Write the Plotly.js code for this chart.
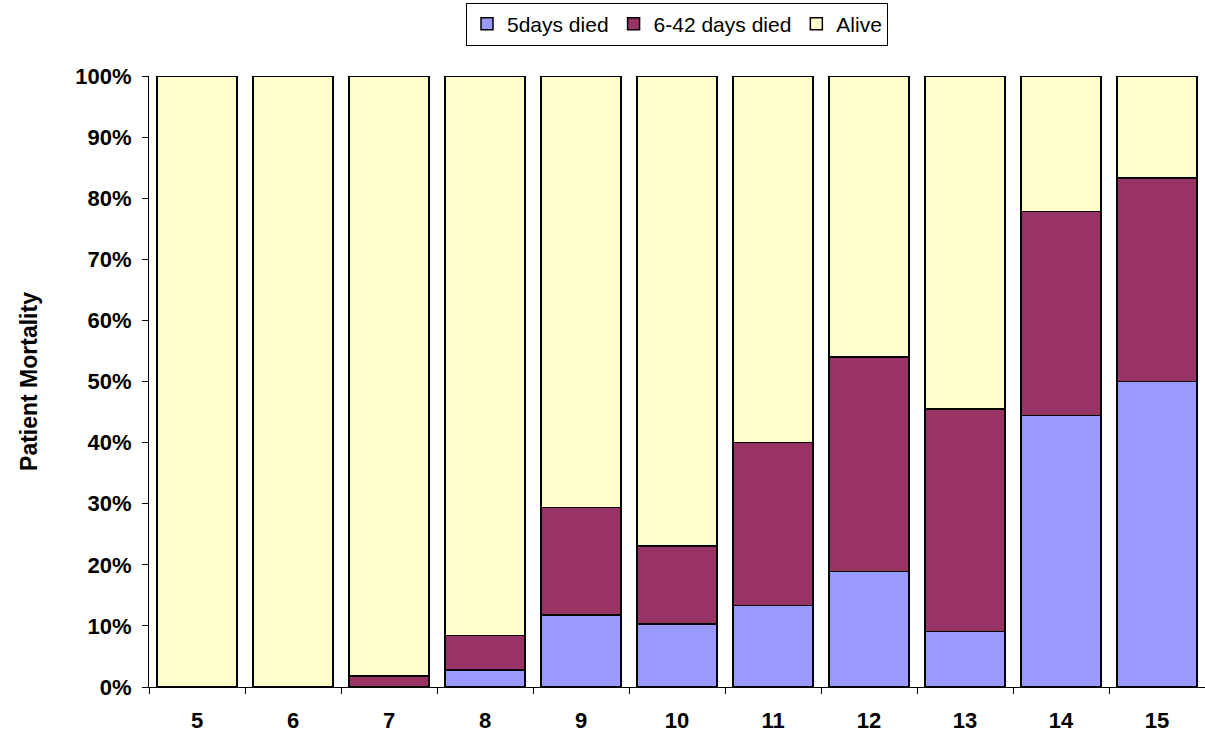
<!DOCTYPE html>
<html><head><meta charset="utf-8">
<script src="https://cdn.plot.ly/plotly-3.0.1.min.js"></script>
<style>html,body{margin:0;padding:0;background:#fff}#chart{width:1205px;height:736px}</style>
</head><body><div id="chart"></div>
<script>
var categories = ["5","6","7","8","9","10","11","12","13","14","15"];
var died5days = [0, 0, 0, 2.8, 11.8, 10.3, 13.3, 18.9, 9.1, 44.4, 50.0];
var died6to42 = [0, 0, 1.8, 5.6, 17.6, 12.8, 26.7, 35.1, 36.4, 33.4, 33.3];
var alive = [100, 100, 98.2, 91.6, 70.6, 76.9, 60.0, 46.0, 54.5, 22.2, 16.7];
var yTickVals = [0,10,20,30,40,50,60,70,80,90,100];
var yTickText = ['0%','10%','20%','30%','40%','50%','60%','70%','80%','90%','100%'];

function tr(name, y, color) {
  return {type:'bar', name:name, x:categories, y:y,
    marker:{color:color, line:{color:'#000', width:1.5}}};
}
var data = [
  tr('5days died', died5days, '#9999FF'),
  tr('6-42 days died', died6to42, '#993366'),
  tr('Alive', alive, '#FFFFCC')
];
var layout = {
  width:1205, height:736,
  margin:{l:149, r:0, t:76, b:49},
  barmode:'stack', bargap:0.17,
  paper_bgcolor:'#fff', plot_bgcolor:'#fff',
  font:{family:'Arial, Liberation Sans, sans-serif', color:'#000'},
  showlegend:true,
  legend:{orientation:'h', x:0.5, xanchor:'center', y:1.12, yanchor:'top',
    bordercolor:'#000', borderwidth:1, font:{size:21}, traceorder:'normal',
    itemwidth:30, tracegroupgap:0},
  xaxis:{type:'category', tickson:'boundaries', ticks:'outside', ticklen:6,
    tickcolor:'#000', showline:true, linecolor:'#000', linewidth:1,
    ticklabelstandoff:14,
    tickfont:{size:22, weight:'bold'}, showgrid:false, zeroline:false},
  yaxis:{range:[0,100], tickvals:yTickVals, ticktext:yTickText,
    ticks:'outside', ticklen:6, tickcolor:'#000', showline:true, linecolor:'#000', linewidth:1,
    ticklabelstandoff:6,
    showgrid:false, zeroline:false, tickfont:{size:22, weight:'bold'},
    title:{text:'Patient Mortality', font:{size:23, weight:'bold'}, standoff:31}}
};
Plotly.newPlot('chart', data, layout, {displayModeBar:false});
</script></body></html>
